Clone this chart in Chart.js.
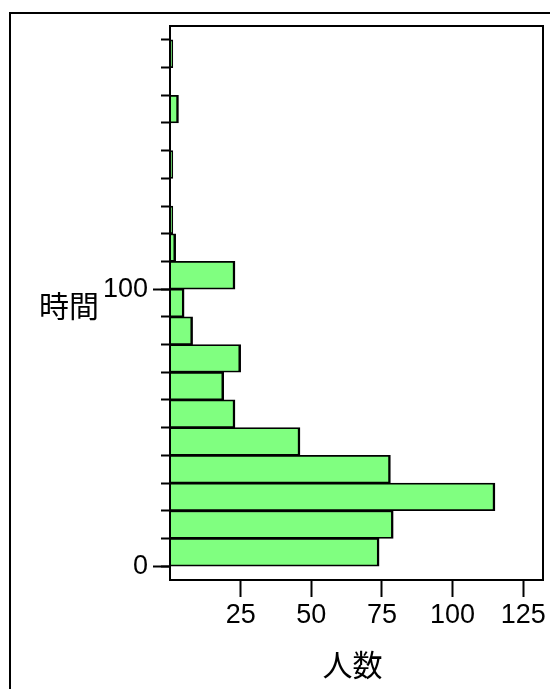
<!DOCTYPE html>
<html><head><meta charset="utf-8">
<script src="https://cdn.jsdelivr.net/npm/chart.js@4/dist/chart.umd.min.js"></script>
<style>
html,body{margin:0;padding:0;background:#fff;overflow:hidden;}
#wrap{position:relative;width:550px;height:689px;overflow:hidden;background:#fff;}
#frame{position:absolute;left:9px;top:12px;width:600px;height:700px;border:2px solid #000;}
canvas{position:absolute;left:0;top:0;}
</style></head><body>
<div id="wrap"><div id="frame"></div><canvas id="c" width="550" height="689"></canvas></div>
<script>
// 時間 bins (centers of 10-wide bins) and 人数 counts
const binCenters = [5, 15, 25, 35, 45, 55, 65, 75, 85, 95, 105, 115, 125, 135, 145, 155, 165, 175, 185];
const counts     = [74, 79, 115, 78, 46, 23, 19, 25, 8, 5, 23, 2, 1, 0, 1, 0, 3, 0, 1];
const yMajorTicks = [0, 100];
const yMinorTicks = [0, 10, 20, 30, 40, 50, 60, 70, 80, 90, 100, 110, 120, 130, 140, 150, 160, 170, 180, 190];
const xTicks = [25, 50, 75, 100, 125];
const xTitle = '人数';
const yTitle = '時間';

const latin = '"Liberation Sans", Arial, sans-serif';
const cjk = '"Noto Sans CJK JP", "Noto Sans CJK SC", sans-serif';

const framePlugin = {
  id: 'frameAndTitle',
  afterDraw(chart) {
    const {ctx, chartArea: a} = chart;
    ctx.save();
    ctx.strokeStyle = '#000';
    ctx.lineWidth = 2;
    ctx.strokeRect(a.left, a.top, a.right - a.left, a.bottom - a.top);
    ctx.fillStyle = '#000';
    ctx.font = '30px ' + cjk;
    ctx.textAlign = 'center';
    ctx.textBaseline = 'middle';
    const ys = chart.scales.yMajor;
    ctx.fillText(yTitle, a.left - 101, ys.getPixelForValue(100) + 16);
    ctx.fillText(xTitle, (a.left + a.right) / 2 - 4, chart.height - 24);
    ctx.restore();
  }
};

new Chart(document.getElementById('c').getContext('2d'), {
  type: 'bar',
  data: {
    datasets: [{
      data: binCenters.map((y, i) => ({x: counts[i], y: y})),
      backgroundColor: '#80FF80',
      borderColor: '#000',
      borderWidth: {top: 1.75, bottom: 1.75, right: 2.5, left: 0},
      barPercentage: 1,
      categoryPercentage: 1,
      yAxisID: 'y'
    }]
  },
  options: {
    indexAxis: 'y',
    responsive: false,
    animation: false,
    devicePixelRatio: 1,
    layout: {padding: {left: 0, top: 26, right: 7, bottom: 0}},
    plugins: {legend: {display: false}, tooltip: {enabled: false}},
    scales: {
      x: {
        type: 'linear', position: 'bottom', min: 0, max: 132,
        afterBuildTicks: s => { s.ticks = xTicks.map(v => ({value: v})); },
        afterFit: s => { s.height = 109; },
        grid: {drawOnChartArea: false, tickLength: 17, tickWidth: 2, tickColor: '#000'},
        border: {color: '#000', width: 2},
        ticks: {font: {family: latin, size: 27}, color: '#000', padding: 2, maxRotation: 0, autoSkip: false},
        title: {display: false}
      },
      yMajor: {
        type: 'linear', position: 'left', min: -5, max: 195, weight: 1,
        offset: false,
        afterBuildTicks: s => { s.ticks = yMajorTicks.map(v => ({value: v})); },
        afterFit: s => { s.width = 170; },
        grid: {drawOnChartArea: false, offset: false, tickLength: 17, tickWidth: 2, tickColor: '#000'},
        border: {color: '#000', width: 2},
        ticks: {font: {family: latin, size: 27}, color: '#000', padding: 5, autoSkip: false}
      },
      y: {
        type: 'linear', position: 'left', min: -5, max: 195, weight: 0,
        offset: false,
        afterBuildTicks: s => { s.ticks = yMinorTicks.map(v => ({value: v})); },
        afterFit: s => { s.width = 0; },
        grid: {drawOnChartArea: false, offset: false, tickLength: 9, tickWidth: 2, tickColor: '#000'},
        border: {display: false},
        ticks: {display: false}
      }
    }
  },
  plugins: [framePlugin]
});
</script>
</body></html>
